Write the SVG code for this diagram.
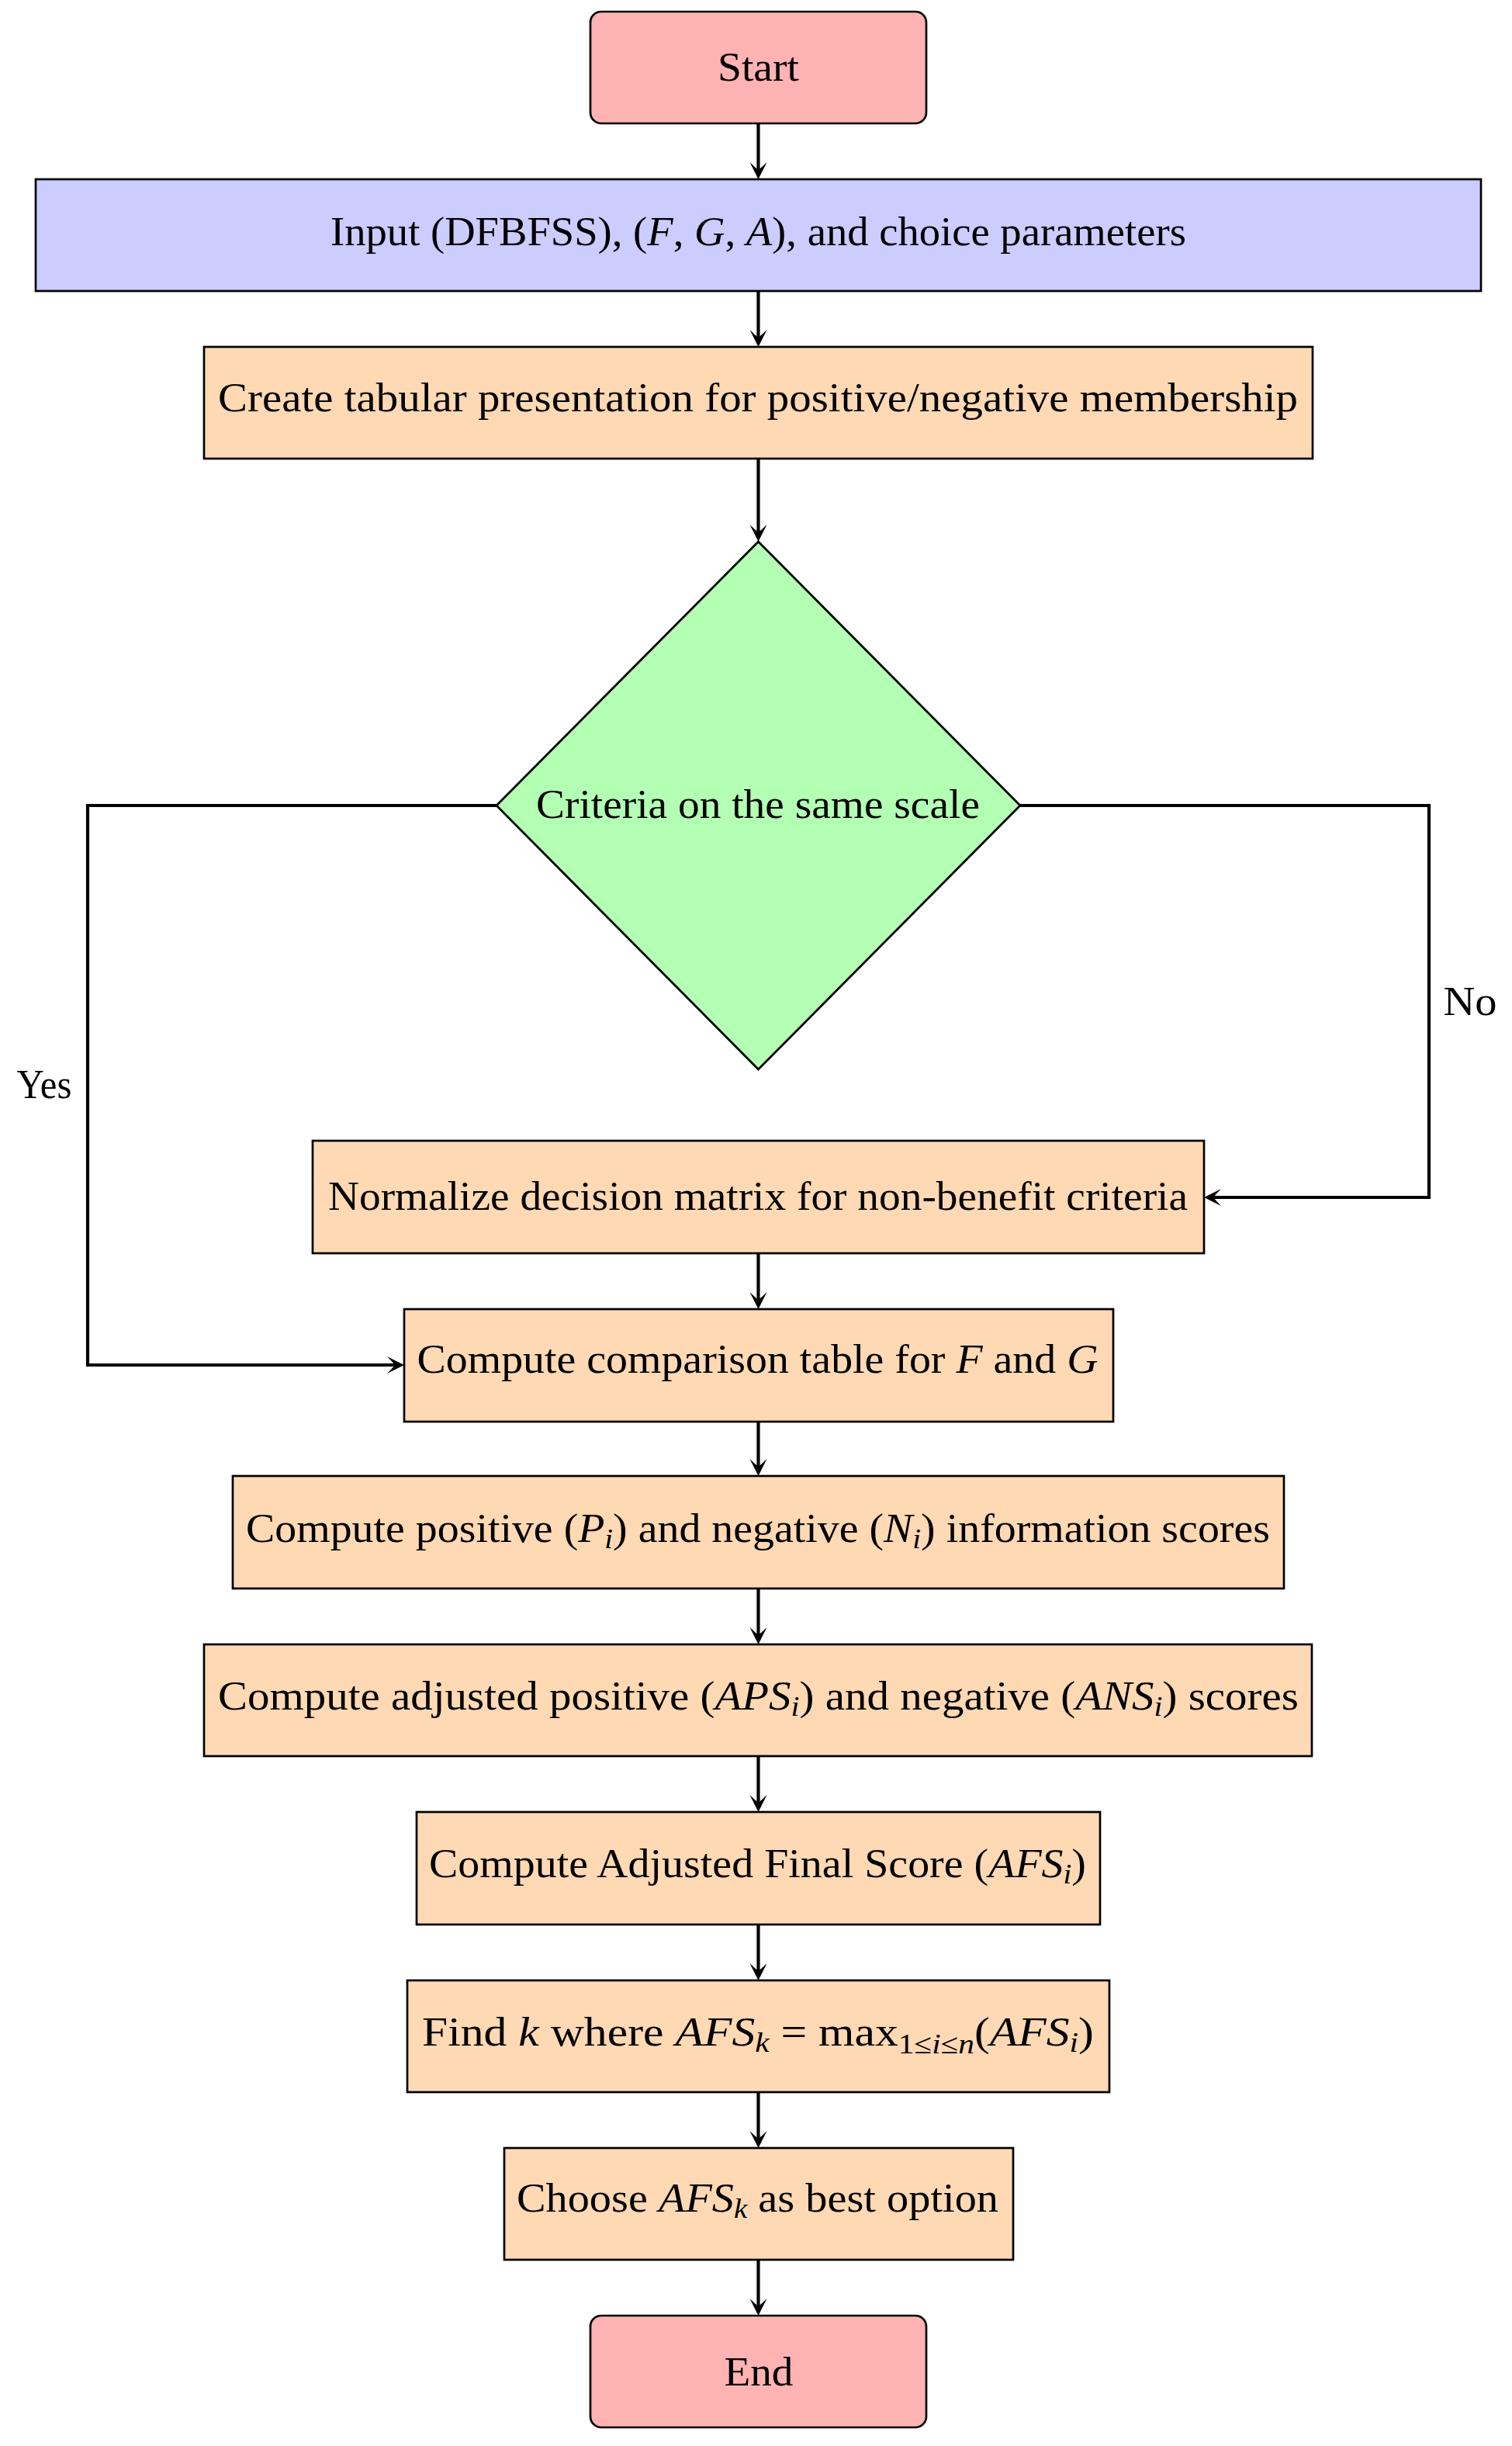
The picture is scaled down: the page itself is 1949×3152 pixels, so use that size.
<svg xmlns="http://www.w3.org/2000/svg" width="1949" height="3152" viewBox="0 0 1949 3152">
<style>
.box{stroke:#000;stroke-width:2.7}
.term{fill:#FFB3B3}
.io{fill:#CCCCFF}
.proc{fill:#FFD9B3}
.dec{fill:#B3FFB3;stroke-width:2.8}
text{font-family:"Liberation Serif","Times New Roman",serif;font-size:52px;text-anchor:middle;fill:#000}
.it{font-style:italic}
.sub{font-size:36px}
.conn{fill:none;stroke:#000;stroke-width:4.2;stroke-linejoin:miter}
</style>
<defs>
<marker id="arr" markerUnits="userSpaceOnUse" markerWidth="24" markerHeight="24" refX="12" refY="11" orient="auto" viewBox="0 0 24 22">
<path d="M22,11 L0,0 Q6,6 10,11 Q6,16 0,22 Z" fill="#000"/>
</marker>
</defs>
<rect width="1949" height="3152" fill="#fff"/>
<g id="connectors">
<path class="conn" marker-end="url(#arr)" d="M977.5,159 V221"/>
<path class="conn" marker-end="url(#arr)" d="M977.5,375 V437"/>
<path class="conn" marker-end="url(#arr)" d="M977.5,591 V688"/>
<path class="conn" marker-end="url(#arr)" d="M640,1038 H113 V1759 H511"/>
<path class="conn" marker-end="url(#arr)" d="M1315,1038 H1842 V1543 H1562"/>
<path class="conn" marker-end="url(#arr)" d="M977.5,1615 V1677"/>
<path class="conn" marker-end="url(#arr)" d="M977.5,1832 V1892"/>
<path class="conn" marker-end="url(#arr)" d="M977.5,2047 V2109"/>
<path class="conn" marker-end="url(#arr)" d="M977.5,2263 V2325"/>
<path class="conn" marker-end="url(#arr)" d="M977.5,2480 V2542"/>
<path class="conn" marker-end="url(#arr)" d="M977.5,2696 V2758"/>
<path class="conn" marker-end="url(#arr)" d="M977.5,2912 V2974"/>
<text x="57" y="1415" textLength="71" lengthAdjust="spacingAndGlyphs">Yes</text>
<text x="1895" y="1308" textLength="69" lengthAdjust="spacingAndGlyphs">No</text>
</g>
<g id="start">
<rect class="box term" x="761" y="15" width="433" height="144" rx="14"/>
<text x="977.5" y="104" textLength="105" lengthAdjust="spacingAndGlyphs">Start</text>
</g>
<g id="input">
<rect class="box io" x="46" y="231" width="1863" height="144"/>
<text x="977.5" y="316" textLength="1103" lengthAdjust="spacingAndGlyphs">Input (DFBFSS), (<tspan class="it">F</tspan>, <tspan class="it">G</tspan>, <tspan class="it">A</tspan>), and choice parameters</text>
</g>
<g id="tabular">
<rect class="box proc" x="263" y="447" width="1429" height="144"/>
<text x="977" y="530" textLength="1392" lengthAdjust="spacingAndGlyphs">Create tabular presentation for positive/negative membership</text>
</g>
<g id="decision">
<polygon class="box dec" points="977.5,698 1315,1038 977.5,1378 640,1038"/>
<text x="977" y="1054" textLength="572" lengthAdjust="spacingAndGlyphs">Criteria on the same scale</text>
</g>
<g id="normalize">
<rect class="box proc" x="403" y="1470" width="1149" height="145"/>
<text x="977" y="1559" textLength="1108" lengthAdjust="spacingAndGlyphs">Normalize decision matrix for non-benefit criteria</text>
</g>
<g id="comparison">
<rect class="box proc" x="521" y="1687" width="914" height="145"/>
<text x="976.5" y="1769" textLength="878" lengthAdjust="spacingAndGlyphs">Compute comparison table for <tspan class="it">F</tspan> and <tspan class="it">G</tspan></text>
</g>
<g id="scores">
<rect class="box proc" x="300" y="1902" width="1355" height="145"/>
<text x="977" y="1987" textLength="1320" lengthAdjust="spacingAndGlyphs">Compute positive (<tspan class="it">P</tspan><tspan class="it sub" dy="8">i</tspan><tspan dy="-8">) and negative (</tspan><tspan class="it">N</tspan><tspan class="it sub" dy="8">i</tspan><tspan dy="-8">) information scores</tspan></text>
</g>
<g id="adjusted">
<rect class="box proc" x="263" y="2119" width="1428" height="144"/>
<text x="977.5" y="2203" textLength="1393" lengthAdjust="spacingAndGlyphs">Compute adjusted positive (<tspan class="it">APS</tspan><tspan class="it sub" dy="8">i</tspan><tspan dy="-8">) and negative (</tspan><tspan class="it">ANS</tspan><tspan class="it sub" dy="8">i</tspan><tspan dy="-8">) scores</tspan></text>
</g>
<g id="final">
<rect class="box proc" x="537" y="2335" width="881" height="145"/>
<text x="976.5" y="2419" textLength="847" lengthAdjust="spacingAndGlyphs">Compute Adjusted Final Score (<tspan class="it">AFS</tspan><tspan class="it sub" dy="8">i</tspan><tspan dy="-8">)</tspan></text>
</g>
<g id="findk">
<rect class="box proc" x="525" y="2552" width="905" height="144"/>
<text x="977" y="2636" textLength="866" lengthAdjust="spacingAndGlyphs">Find <tspan class="it">k</tspan> where <tspan class="it">AFS</tspan><tspan class="it sub" dy="8">k</tspan><tspan dy="-8"> = max</tspan><tspan class="sub" dy="10">1≤</tspan><tspan class="sub it">i</tspan><tspan class="sub">≤</tspan><tspan class="sub it">n</tspan><tspan dy="-10">(</tspan><tspan class="it">AFS</tspan><tspan class="it sub" dy="8">i</tspan><tspan dy="-8">)</tspan></text>
</g>
<g id="choose">
<rect class="box proc" x="650" y="2768" width="656" height="144"/>
<text x="976.5" y="2850" textLength="621" lengthAdjust="spacingAndGlyphs">Choose <tspan class="it">AFS</tspan><tspan class="it sub" dy="8">k</tspan><tspan dy="-8"> as best option</tspan></text>
</g>
<g id="end">
<rect class="box term" x="761" y="2984" width="433" height="144" rx="14"/>
<text x="978" y="3074" textLength="89" lengthAdjust="spacingAndGlyphs">End</text>
</g>
</svg>
